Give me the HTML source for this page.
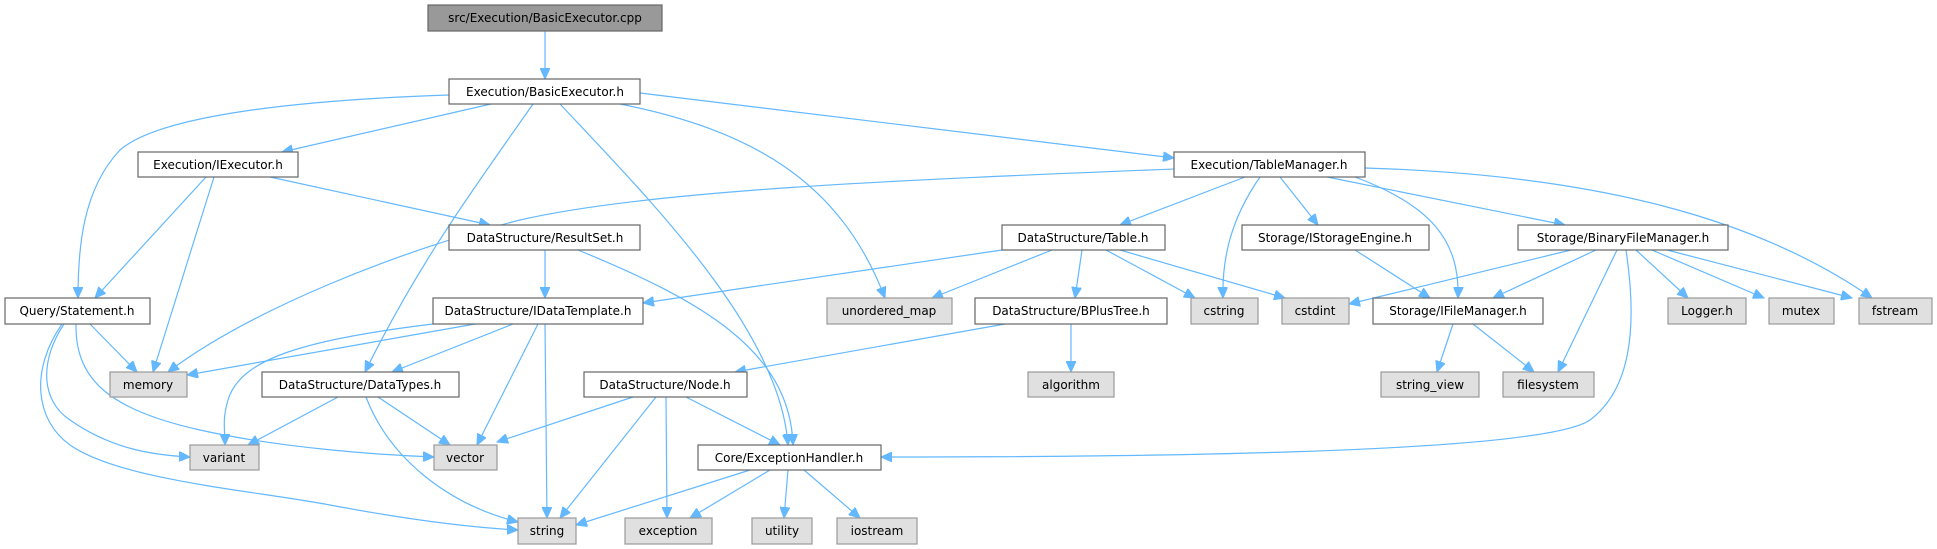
<!DOCTYPE html>
<html><head><meta charset="utf-8"><style>
html,body{margin:0;padding:0;background:#fff;}
svg{display:block;}
text{font-family:"DejaVu Sans","Liberation Sans",sans-serif;font-size:12px;fill:#000;}
.e{fill:none;stroke:#63b8ff;stroke-width:1.2;}
.w{fill:#fff;stroke:#666;stroke-width:1.2;}
.g{fill:#e0e0e0;stroke:#999;stroke-width:1.2;}
.c{fill:#999;stroke:#666;stroke-width:1.2;}
</style></head><body>
<svg width="1937" height="549" viewBox="0 0 1937 549" xmlns="http://www.w3.org/2000/svg">
<defs><marker id="a" markerUnits="userSpaceOnUse" markerWidth="12" markerHeight="10" refX="11" refY="5" orient="auto"><path d="M0,0 L11,5 L0,10 z" fill="#63b8ff" stroke="#63b8ff"/></marker></defs>
<g marker-end="url(#a)">
<path class="e" d="M545,31 L545,79"/>
<path class="e" d="M449,95 C300,100 160,115 120,150 C82,190 78,250 78,298"/>
<path class="e" d="M491,104 L282,152"/>
<path class="e" d="M533,104 C480,180 420,260 365,372"/>
<path class="e" d="M560,104 C650,200 780,330 788,445"/>
<path class="e" d="M620,104 C750,130 840,180 885,298"/>
<path class="e" d="M640,93 L1174,158"/>
<path class="e" d="M206,177 L95,298"/>
<path class="e" d="M214,177 L153,372"/>
<path class="e" d="M270,177 L490,225"/>
<path class="e" d="M545,250 L545,298"/>
<path class="e" d="M578,250 C700,300 790,350 793,445"/>
<path class="e" d="M1174,169 C900,180 650,190 520,220 C400,250 250,310 168,372"/>
<path class="e" d="M1245,177 L1120,225"/>
<path class="e" d="M1260,177 C1230,220 1222,260 1223,298"/>
<path class="e" d="M1280,177 L1318,225"/>
<path class="e" d="M1327,177 L1565,225"/>
<path class="e" d="M1355,177 C1430,205 1460,240 1458,298"/>
<path class="e" d="M1365,168 C1600,175 1760,220 1872,298"/>
<path class="e" d="M1002,250 L643,303"/>
<path class="e" d="M1052,250 L932,298"/>
<path class="e" d="M1082,250 L1075,298"/>
<path class="e" d="M1106,250 L1195,298"/>
<path class="e" d="M1120,250 L1285,298"/>
<path class="e" d="M1355,250 L1430,298"/>
<path class="e" d="M1571,250 L1349,304"/>
<path class="e" d="M1596,250 L1493,298"/>
<path class="e" d="M1617,250 L1558,372"/>
<path class="e" d="M1626,250 C1638,330 1630,390 1590,420 C1540,455 1100,457 881,457"/>
<path class="e" d="M1636,250 L1688,298"/>
<path class="e" d="M1652,250 L1764,298"/>
<path class="e" d="M1667,250 L1852,298"/>
<path class="e" d="M1453,324 L1437,372"/>
<path class="e" d="M1473,324 L1534,372"/>
<path class="e" d="M1005,324 L735,372"/>
<path class="e" d="M1071,324 L1071,372"/>
<path class="e" d="M475,324 L187,375"/>
<path class="e" d="M433,324 C300,340 240,360 228,400 C222,420 225,430 225,445"/>
<path class="e" d="M513,324 L392,372"/>
<path class="e" d="M538,324 L477,445"/>
<path class="e" d="M545,324 L547,518"/>
<path class="e" d="M90,324 L137,372"/>
<path class="e" d="M64,324 C40,360 40,400 70,420 C110,448 150,455 190,457"/>
<path class="e" d="M76,324 C75,380 110,410 200,430 C280,448 380,455 434,457"/>
<path class="e" d="M62,324 C30,370 35,420 70,445 C120,480 250,490 330,505 C420,522 480,528 518,530"/>
<path class="e" d="M338,397 L248,445"/>
<path class="e" d="M378,397 L450,445"/>
<path class="e" d="M366,397 C390,460 450,505 518,522"/>
<path class="e" d="M633,397 L497,442"/>
<path class="e" d="M656,397 L560,518"/>
<path class="e" d="M666,397 L667,518"/>
<path class="e" d="M686,397 L780,445"/>
<path class="e" d="M750,470 L576,525"/>
<path class="e" d="M770,470 L690,518"/>
<path class="e" d="M788,470 L784,518"/>
<path class="e" d="M804,470 L860,518"/>
</g>
<g text-anchor="middle">
<rect class="c" x="428" y="5" width="234" height="26"/><text x="545" y="22">src/Execution/BasicExecutor.cpp</text>
<rect class="w" x="449" y="79" width="191" height="25"/><text x="545" y="96">Execution/BasicExecutor.h</text>
<rect class="w" x="138" y="152" width="160" height="25"/><text x="218" y="169">Execution/IExecutor.h</text>
<rect class="w" x="449" y="225" width="191" height="25"/><text x="545" y="242">DataStructure/ResultSet.h</text>
<rect class="w" x="1174" y="152" width="191" height="25"/><text x="1269" y="169">Execution/TableManager.h</text>
<rect class="w" x="5" y="298" width="145" height="26"/><text x="77" y="315">Query/Statement.h</text>
<rect class="w" x="433" y="298" width="210" height="26"/><text x="538" y="315">DataStructure/IDataTemplate.h</text>
<rect class="w" x="1002" y="225" width="163" height="25"/><text x="1083" y="242">DataStructure/Table.h</text>
<rect class="w" x="1242" y="225" width="187" height="25"/><text x="1335" y="242">Storage/IStorageEngine.h</text>
<rect class="w" x="1518" y="225" width="210" height="25"/><text x="1623" y="242">Storage/BinaryFileManager.h</text>
<rect class="g" x="827" y="298" width="125" height="26"/><text x="889" y="315">unordered_map</text>
<rect class="w" x="975" y="298" width="192" height="26"/><text x="1071" y="315">DataStructure/BPlusTree.h</text>
<rect class="g" x="1191" y="298" width="67" height="26"/><text x="1224" y="315">cstring</text>
<rect class="g" x="1282" y="298" width="67" height="26"/><text x="1315" y="315">cstdint</text>
<rect class="w" x="1373" y="298" width="170" height="26"/><text x="1458" y="315">Storage/IFileManager.h</text>
<rect class="g" x="1668" y="298" width="78" height="26"/><text x="1707" y="315">Logger.h</text>
<rect class="g" x="1769" y="298" width="65" height="26"/><text x="1801" y="315">mutex</text>
<rect class="g" x="1859" y="298" width="73" height="26"/><text x="1895" y="315">fstream</text>
<rect class="g" x="110" y="372" width="77" height="25"/><text x="148" y="389">memory</text>
<rect class="w" x="262" y="372" width="197" height="25"/><text x="360" y="389">DataStructure/DataTypes.h</text>
<rect class="w" x="584" y="372" width="163" height="25"/><text x="665" y="389">DataStructure/Node.h</text>
<rect class="g" x="1028" y="372" width="86" height="25"/><text x="1071" y="389">algorithm</text>
<rect class="g" x="1381" y="372" width="98" height="25"/><text x="1430" y="389">string_view</text>
<rect class="g" x="1503" y="372" width="91" height="25"/><text x="1548" y="389">filesystem</text>
<rect class="g" x="190" y="445" width="69" height="25"/><text x="224" y="462">variant</text>
<rect class="g" x="434" y="445" width="63" height="25"/><text x="465" y="462">vector</text>
<rect class="w" x="698" y="445" width="183" height="25"/><text x="789" y="462">Core/ExceptionHandler.h</text>
<rect class="g" x="518" y="518" width="58" height="26"/><text x="547" y="535">string</text>
<rect class="g" x="625" y="518" width="87" height="26"/><text x="668" y="535">exception</text>
<rect class="g" x="752" y="518" width="60" height="26"/><text x="782" y="535">utility</text>
<rect class="g" x="837" y="518" width="80" height="26"/><text x="877" y="535">iostream</text>
</g>
</svg>
</body></html>
